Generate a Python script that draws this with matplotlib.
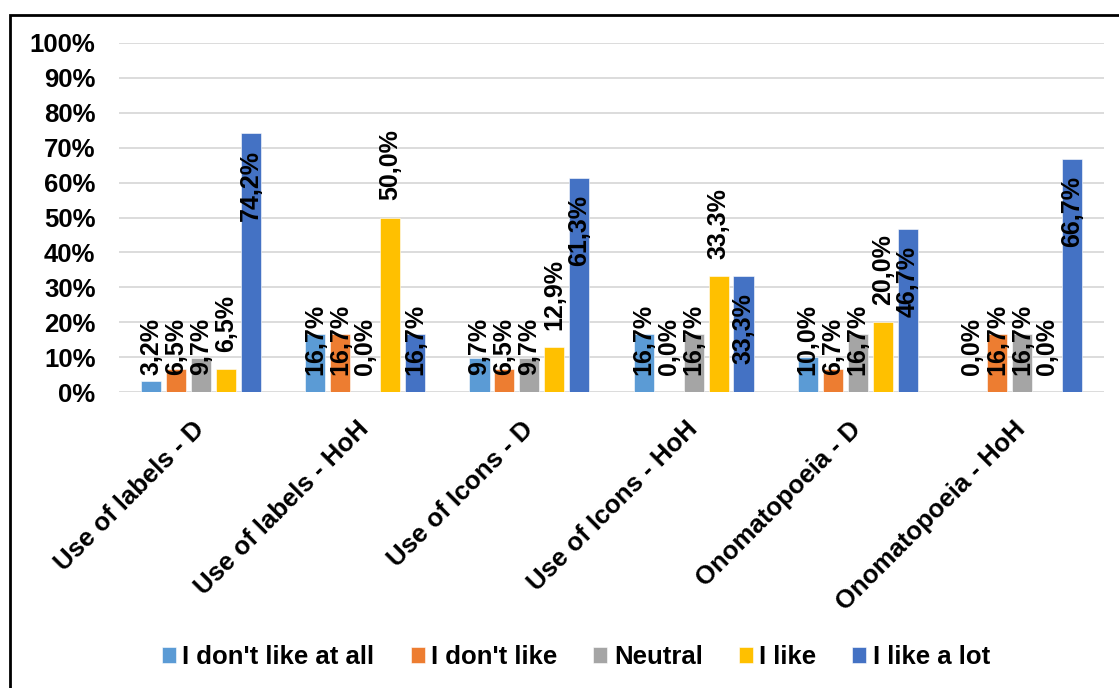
import matplotlib
matplotlib.use("Agg")
import matplotlib.pyplot as plt
import numpy as np
from matplotlib.patches import Rectangle
from matplotlib.ticker import FixedLocator

plt.rcParams['font.family'] = ['Liberation Sans', 'DejaVu Sans']
plt.rcParams['font.weight'] = 'bold'

categories = ["Use of labels - D", "Use of labels - HoH", "Use of Icons - D",
              "Use of Icons - HoH", "Onomatopoeia - D", "Onomatopoeia - HoH"]
series_names = ["I don't like at all", "I don't like", "Neutral", "I like", "I like a lot"]
dont_like_at_all = [3.2, 16.7, 9.7, 16.7, 10.0, 0.0]
dont_like = [6.5, 16.7, 6.5, 0.0, 6.7, 16.7]
neutral = [9.7, 0.0, 9.7, 16.7, 16.7, 16.7]
like = [6.5, 50.0, 12.9, 33.3, 20.0, 0.0]
like_a_lot = [74.2, 16.7, 61.3, 33.3, 46.7, 66.7]
series_values = [dont_like_at_all, dont_like, neutral, like, like_a_lot]
colors = ["#5B9BD5", "#ED7D31", "#A5A5A5", "#FFC000", "#4472C4"]
# label placement per series: True = above the bar, False = inside the bar end
label_outside = [False, False, False, True, False]
y_ticks = list(range(0, 101, 10))

W, H, DPI = 1119, 688, 100
fig = plt.figure(figsize=(W / DPI, H / DPI), dpi=DPI)
ax = fig.add_axes([119 / W, 1 - 392 / H, 985 / W, 349 / H])

x = np.arange(len(categories))
step = 0.152
width = 0.122
FS = 18
TFS = 18.5

bars_all = []
for i, (vals, col, name) in enumerate(zip(series_values, colors, series_names)):
    pos = x + (i - 2) * step
    bars = ax.bar(pos, vals, width=width, color=col, label=name, zorder=2,
                  edgecolor='white', linewidth=0.4)
    bars_all.append((bars, vals, label_outside[i]))

ax.set_xlim(-0.5, len(categories) - 0.5)
ax.set_ylim(0, 100)
ax.yaxis.set_major_locator(FixedLocator(y_ticks))
ax.set_yticklabels([f"{t}%" for t in y_ticks], fontsize=TFS, fontweight='bold')
ax.grid(axis='y', color='#D9D9D9', linewidth=1.3, zorder=0)
ax.set_axisbelow(True)
for s in ax.spines.values():
    s.set_visible(False)
ax.tick_params(axis='both', length=0)
ax.tick_params(axis='y', pad=17)
ax.set_xticks(x)
ax.set_xticklabels(categories, rotation=45, ha='right', va='center',
                   rotation_mode='anchor', fontsize=TFS, fontweight='bold')
ax.tick_params(axis='x', pad=24)

fig.canvas.draw()
renderer = fig.canvas.get_renderer()
OFF = 17
px_per_unit = 349 / 100.0

for bars, vals, outside in bars_all:
    for b, v in zip(bars, vals):
        cx = b.get_x() + b.get_width() / 2
        txt = f"{v:.1f}%".replace('.', ',')
        if outside:
            ax.annotate(txt, (cx, v), xytext=(0, OFF), textcoords='offset pixels',
                        rotation=90, ha='center', va='bottom', fontsize=FS,
                        fontweight='bold', zorder=3)
        else:
            t = ax.annotate(txt, (cx, v), xytext=(0, -OFF), textcoords='offset pixels',
                            rotation=90, ha='center', va='top', fontsize=FS,
                            fontweight='bold', zorder=3)
            ext = t.get_window_extent(renderer)
            if ext.height + 2 * OFF > v * px_per_unit:
                t.remove()
                ax.annotate(txt, (cx, 0), xytext=(0, OFF), textcoords='offset pixels',
                            rotation=90, ha='center', va='bottom', fontsize=FS,
                            fontweight='bold', zorder=3)

leg = fig.legend(loc='center', bbox_to_anchor=(576 / W, 31 / H), ncol=5,
                 frameon=False, handlelength=0.55, handleheight=0.55,
                 handletextpad=0.25, columnspacing=1.4,
                 prop={'weight': 'bold', 'size': TFS})

# outer frame
fig.patches.append(Rectangle((10 / W, -0.05), 1.2, 1 - 15 / H + 0.05,
                             transform=fig.transFigure, fill=False,
                             edgecolor='black', linewidth=2.0, zorder=10))

fig.savefig("out.png", dpi=DPI, facecolor='white')
